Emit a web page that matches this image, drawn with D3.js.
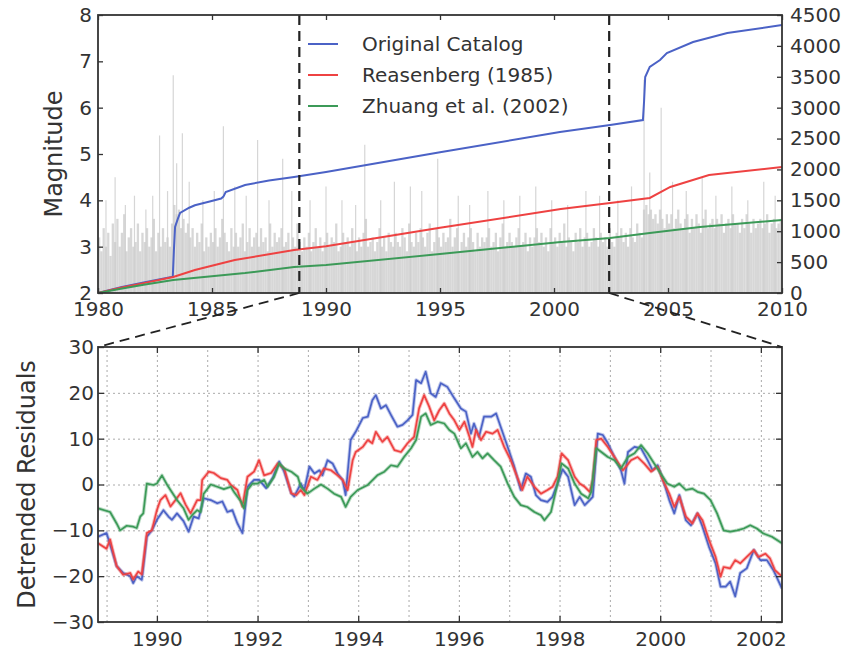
<!DOCTYPE html>
<html>
<head>
<meta charset="utf-8">
<script src="https://cdn.jsdelivr.net/npm/d3@7"></script>
<style>
  body { margin: 0; background: #fff; }
  text { font-family: "DejaVu Sans", sans-serif; }
</style>
</head>
<body>
<div id="chart"></div>
<script>
// ---- data ----
const topYearTicks = [1980, 1985, 1990, 1995, 2000, 2005, 2010];
const magTicks = [2, 3, 4, 5, 6, 7, 8];
const countTicks = [0, 500, 1000, 1500, 2000, 2500, 3000, 3500, 4000, 4500];
const resYearTicks = [1990, 1992, 1994, 1996, 1998, 2000, 2002];
const resYearMinor = [1989, 1990, 1991, 1992, 1993, 1994, 1995, 1996, 1997, 1998, 1999, 2000, 2001, 2002];
const resTicks = [-30, -20, -10, 0, 10, 20, 30];
const zoomWindow = [1988.83, 2002.42];

const seriesNames = ["Original Catalog", "Reasenberg (1985)", "Zhuang et al. (2002)"];
const seriesColors = ["#4b62c6", "#ee4242", "#3c9a58"];

// event magnitudes, one stem per 0.1 yr from 1980
const baseStart = 1980, baseStep = 0.1;
const baseMags = [
  3.2, 2.9, 3.4, 3.0, 3.3, 2.8, 3.5, 3.1, 3.6, 3.0,
  3.3, 3.7, 2.9, 3.2, 3.4, 3.0, 3.1, 3.5, 2.9, 3.3,
  3.1, 3.4, 3.0, 3.2, 3.6, 2.9, 3.3, 3.0, 3.4, 3.1,
  3.2, 3.0, 3.5, 3.9, 3.7, 3.8, 3.4, 3.6, 3.3, 3.5,
  3.2, 3.4, 3.0, 3.3, 3.1, 3.5, 2.9, 3.2, 3.0, 3.3,
  3.1, 3.4, 3.0, 3.2, 3.6, 3.3, 3.1, 2.9, 3.4, 3.0,
  3.3, 3.0, 3.2, 3.5, 2.9, 3.1, 3.4, 3.0, 3.2, 3.3,
  3.0, 3.4, 3.1, 3.2, 2.9, 3.5, 3.0, 3.3, 3.1, 3.2,
  3.4, 3.0, 3.1, 3.3, 2.9, 3.2, 3.0, 3.5, 3.1, 2.9,
  3.2, 3.0, 3.3, 2.9, 3.1, 3.4, 3.0, 3.2, 2.9, 3.1,
  3.3, 3.0, 3.2, 3.1, 3.5, 2.9, 3.0, 3.3, 3.1, 3.2,
  3.0, 3.4, 3.1, 2.9, 3.2, 3.0, 3.3, 3.6, 3.0, 3.1,
  3.2, 2.9, 3.1, 3.4, 3.0, 3.2, 2.9, 3.3, 3.1, 3.0,
  3.3, 3.1, 3.0, 3.4, 3.2, 2.9, 3.5, 3.1, 3.0, 3.3,
  3.1, 3.4, 3.2, 3.0, 3.3, 3.5, 2.9, 3.1, 3.4, 3.2,
  3.0, 3.3, 3.1, 3.2, 3.6, 3.0, 3.2, 3.4, 2.9, 3.1,
  3.3, 3.0, 3.2, 3.4, 3.1, 2.9, 3.3, 3.0, 3.2, 3.1,
  3.2, 3.4, 3.0, 3.1, 3.3, 2.9, 3.2, 3.5, 3.0, 3.1,
  3.3, 3.1, 3.0, 3.2, 3.4, 3.0, 3.1, 3.3, 2.9, 3.2,
  3.0, 3.2, 3.4, 3.1, 3.3, 3.0, 3.2, 2.9, 3.4, 3.1,
  3.2, 3.0, 3.3, 3.1, 3.5, 3.0, 3.2, 3.1, 2.9, 3.3,
  3.1, 3.4, 3.0, 3.2, 3.3, 3.0, 3.1, 3.4, 3.2, 3.0,
  3.3, 3.1, 3.2, 3.0, 3.4, 3.1, 3.0, 3.3, 3.2, 3.4,
  3.1, 3.3, 3.0, 3.4, 3.2, 3.1, 3.5, 3.3, 3.2, 3.8,
  3.9, 3.7, 3.8, 3.6, 3.7, 3.5, 3.8, 3.6, 3.4, 3.7,
  3.5, 3.7, 3.4, 3.6, 3.8, 3.5, 3.4, 3.6, 3.7, 3.3,
  3.6, 3.4, 3.7, 3.5, 3.3, 3.6, 3.8, 3.4, 3.5, 3.6,
  3.4, 3.6, 3.5, 3.7, 3.3, 3.5, 3.6, 3.4, 3.7, 3.5,
  3.5, 3.3, 3.6, 3.4, 3.7, 3.5, 3.3, 3.6, 3.4, 3.5,
  3.6, 3.4, 3.5, 3.7, 3.3, 3.5, 3.6, 3.4, 3.5, 3.6
];

// the larger events [year, magnitude]
const bigEvents = [
  [1980.35, 4.0], [1980.75, 4.5], [1981.2, 3.9], [1981.6, 4.1], [1982.1, 3.8],
  [1982.4, 4.1], [1982.7, 5.4], [1983.05, 4.2], [1983.3, 6.7], [1983.45, 4.8],
  [1983.7, 5.45], [1984.0, 4.4], [1984.6, 4.0], [1985.1, 4.2], [1985.5, 5.6],
  [1986.0, 4.3], [1986.5, 4.1], [1987.0, 5.3], [1987.5, 4.0], [1988.1, 4.9],
  [1988.5, 4.2], [1989.3, 4.0], [1990.0, 4.3], [1990.7, 4.0], [1991.3, 3.9],
  [1991.7, 5.2], [1992.4, 4.0], [1993.0, 4.4], [1993.7, 4.3], [1994.2, 4.2],
  [1994.9, 4.9], [1995.8, 4.1], [1996.3, 3.9], [1997.1, 4.2], [1997.8, 4.0],
  [1998.5, 4.1], [1999.2, 4.3], [1999.9, 4.0], [2000.6, 3.9], [2001.4, 4.2],
  [2002.0, 4.1], [2002.8, 4.0], [2003.4, 4.3], [2003.95, 6.6], [2004.2, 4.6],
  [2004.7, 6.0], [2005.2, 4.4], [2005.8, 4.2], [2006.5, 4.5], [2007.1, 4.1],
  [2007.8, 4.3], [2008.5, 4.0], [2009.2, 4.4], [2009.7, 4.1]
];

// cumulative number of events [year, count]
const origCum = [
  [1980, 0], [1981, 95], [1982, 170], [1983.28, 264], [1983.33, 700], [1983.38, 1068],
  [1983.5, 1200], [1983.6, 1295], [1984.0, 1380], [1984.25, 1420], [1984.9, 1480],
  [1985.4, 1530], [1985.5, 1560], [1985.6, 1635], [1986.45, 1748], [1987.5, 1820],
  [1988.6, 1878], [1990, 1959], [1995, 2280], [2000.26, 2606], [2002.46, 2720],
  [2003.9, 2800], [2003.95, 3100], [2004.0, 3496], [2004.2, 3660], [2004.65, 3771],
  [2004.95, 3885], [2006.1, 4063], [2007.6, 4208], [2010, 4338]
];
const reasCum = [
  [1980, 0], [1981, 85], [1982, 160], [1983.3, 259], [1984.25, 372], [1986, 534],
  [1988.6, 696], [1990, 755], [1995, 1055], [2000.3, 1360], [2002.46, 1457],
  [2004.2, 1538], [2005.1, 1716], [2006.8, 1910], [2010, 2040]
];
const zhuangCum = [
  [1980, 0], [1981, 70], [1982, 135], [1983.3, 210], [1986.45, 324], [1988.6, 421],
  [1990, 452], [1995, 630], [2000.3, 826], [2002.46, 890], [2004.2, 971],
  [2006.4, 1068], [2010, 1182]
];

// detrended residuals [year, value]
const origRes = [
  [1988.83, -11.4], [1989.00, -10.6], [1989.20, -17.8], [1989.33, -19.3], [1989.47, -20],
  [1989.53, -21.5], [1989.60, -20], [1989.70, -20.8], [1989.80, -11.4], [1989.90, -10],
  [1990.00, -7.7], [1990.13, -5.6], [1990.23, -7], [1990.30, -7.7], [1990.40, -6.3],
  [1990.53, -8], [1990.63, -10.3], [1990.73, -7], [1990.83, -7.4], [1990.93, -3],
  [1991.07, -3.4], [1991.20, -4.1], [1991.30, -3.7], [1991.40, -6], [1991.50, -5.6],
  [1991.60, -8.5], [1991.70, -10.6], [1991.80, -0.5], [1991.93, 1], [1992.03, 1],
  [1992.17, -0.8], [1992.30, 1.4], [1992.43, 5], [1992.53, 2.8], [1992.67, -1.9],
  [1992.73, -2.6], [1992.86, 0.2], [1992.93, -1.2], [1993.03, 3.9], [1993.13, 2.4],
  [1993.23, 3.1], [1993.29, 2], [1993.39, 5.3], [1993.49, 4.6], [1993.59, 2.4],
  [1993.69, 1], [1993.75, -2.3], [1993.85, 9.7], [1993.95, 11.5], [1994.09, 14.5],
  [1994.19, 14.8], [1994.28, 18.4], [1994.35, 19.5], [1994.45, 16.6], [1994.55, 17.3],
  [1994.65, 15.2], [1994.78, 12.6], [1994.88, 13], [1994.98, 14], [1995.08, 15.2],
  [1995.15, 22.8], [1995.25, 22.1], [1995.34, 24.6], [1995.44, 19.9], [1995.54, 19.1],
  [1995.64, 22.1], [1995.77, 21.3], [1995.91, 18.8], [1996.04, 16.6], [1996.14, 15.9],
  [1996.24, 11.1], [1996.30, 13.3], [1996.40, 10.4], [1996.50, 14.8], [1996.64, 14.8],
  [1996.74, 15.5], [1996.83, 12.6], [1996.97, 8.2], [1997.10, 3.9], [1997.23, -1.2],
  [1997.33, 2.4], [1997.43, 1.7], [1997.53, -2.3], [1997.63, -3.4], [1997.76, -3.8],
  [1997.86, -2.7], [1997.96, 0.2], [1998.06, 3.3], [1998.17, 1.7], [1998.30, -4.5],
  [1998.40, -2.7], [1998.50, -4.5], [1998.60, -3.4], [1998.66, -2.7], [1998.76, 11.1],
  [1998.86, 10.8], [1998.96, 9], [1999.09, 6], [1999.22, 3.1], [1999.29, 0.2],
  [1999.36, 7.1], [1999.49, 8.2], [1999.62, 7.9], [1999.75, 5.3], [1999.85, 3.1],
  [1999.95, 4.2], [2000.08, 0.2], [2000.18, -3.4], [2000.28, -6.3], [2000.38, -2.3],
  [2000.51, -7.8], [2000.61, -8.9], [2000.74, -6.3], [2000.84, -9.2], [2000.97, -13.6],
  [2001.10, -17.2], [2001.20, -22.3], [2001.30, -22.3], [2001.39, -21.2], [2001.49, -24.4],
  [2001.59, -19.3], [2001.72, -18.3], [2001.86, -14.3], [2001.99, -16.5], [2002.12, -16.5],
  [2002.25, -18.7], [2002.42, -22.7]
];
const reasRes = [
  [1988.83, -12.8], [1989.00, -14], [1989.07, -12], [1989.20, -17.8], [1989.33, -19.7],
  [1989.47, -19.3], [1989.53, -20.7], [1989.63, -19], [1989.70, -19.6], [1989.80, -10.6],
  [1989.90, -10], [1990.00, -5.6], [1990.07, -3.4], [1990.17, -2.3], [1990.27, -4.8],
  [1990.37, -3.4], [1990.47, -1.9], [1990.57, -4.4], [1990.67, -6.3], [1990.80, -3.4],
  [1990.87, -3.4], [1990.90, 1], [1991.03, 2.8], [1991.13, 2.5], [1991.27, 1.4],
  [1991.40, 1], [1991.47, -0.1], [1991.60, -1.2], [1991.70, -4.8], [1991.80, 1.7],
  [1991.93, 2.8], [1992.03, 5.3], [1992.13, 2], [1992.27, 2.5], [1992.40, 4.6],
  [1992.53, 3.5], [1992.67, -1.9], [1992.77, -2.3], [1992.86, -1.2], [1992.93, -2.3],
  [1993.06, 1.7], [1993.19, 1], [1993.32, 3.5], [1993.46, 3.1], [1993.59, 2],
  [1993.69, 1], [1993.79, -1.2], [1993.89, 5.3], [1993.95, 7.1], [1994.09, 8.2],
  [1994.19, 9.7], [1994.28, 9], [1994.35, 11.5], [1994.48, 9.3], [1994.58, 10.4],
  [1994.72, 7.5], [1994.85, 7.1], [1994.98, 9], [1995.11, 10.4], [1995.21, 16.6],
  [1995.31, 19.5], [1995.41, 17], [1995.51, 14], [1995.61, 16.2], [1995.71, 17.7],
  [1995.81, 15.5], [1995.91, 14], [1996.01, 11.9], [1996.11, 13.7], [1996.21, 10.4],
  [1996.27, 8.2], [1996.34, 11.9], [1996.44, 9.7], [1996.54, 11.5], [1996.67, 11.1],
  [1996.77, 11.9], [1996.90, 8.2], [1997.03, 5.3], [1997.17, 1.3], [1997.26, -1.2],
  [1997.36, 1.7], [1997.50, -0.5], [1997.63, -2], [1997.76, -1.2], [1997.86, -0.5],
  [1997.96, 1.7], [1998.04, 6.8], [1998.17, 5.3], [1998.30, 1.7], [1998.40, 0.2],
  [1998.50, -0.5], [1998.60, -1.6], [1998.66, 1], [1998.73, 9.7], [1998.83, 10],
  [1998.96, 8.2], [1999.09, 6], [1999.26, 3.1], [1999.32, 3.9], [1999.42, 5.3],
  [1999.55, 6], [1999.68, 4.6], [1999.82, 2.8], [1999.95, 3.9], [2000.05, 1],
  [2000.18, -2], [2000.28, -4.9], [2000.38, -2.7], [2000.51, -7], [2000.64, -8.5],
  [2000.74, -6.3], [2000.84, -7.8], [2000.97, -12.1], [2001.10, -15.8], [2001.20, -20.1],
  [2001.26, -18], [2001.39, -18.3], [2001.49, -16.5], [2001.59, -17.2], [2001.72, -15.8],
  [2001.86, -14.3], [2001.95, -15.8], [2002.09, -15.1], [2002.18, -16.1], [2002.28, -18.7],
  [2002.42, -20.1]
];
const zhuangRes = [
  [1988.83, -5.2], [1989.07, -6], [1989.20, -8.5], [1989.27, -10], [1989.40, -9],
  [1989.53, -9.2], [1989.60, -9.5], [1989.67, -7], [1989.73, -6.3], [1989.80, 0.2],
  [1989.93, -0.1], [1990.00, 0.2], [1990.10, 2], [1990.20, 0], [1990.27, -1.2],
  [1990.40, -3.4], [1990.53, -5.2], [1990.63, -7.7], [1990.70, -6.7], [1990.80, -5.6],
  [1990.87, -6], [1990.93, -2], [1991.07, 0], [1991.20, -0.5], [1991.33, -1],
  [1991.47, -0.5], [1991.53, -1.6], [1991.67, -3.7], [1991.73, -5.2], [1991.80, -1.2],
  [1991.90, 0.2], [1992.00, 0.2], [1992.13, 1], [1992.20, -0.5], [1992.33, 1.7],
  [1992.43, 4.6], [1992.53, 3.5], [1992.67, 2.8], [1992.80, 1.7], [1992.86, -0.5],
  [1992.99, -2], [1993.13, -0.9], [1993.26, 0], [1993.39, -0.9], [1993.52, -2],
  [1993.66, -2.7], [1993.75, -4.9], [1993.85, -2.7], [1993.99, -1.2], [1994.19, -0.1],
  [1994.38, 2], [1994.52, 2.8], [1994.65, 4.2], [1994.78, 3.9], [1994.91, 6],
  [1995.05, 7.9], [1995.15, 9.7], [1995.25, 14.8], [1995.34, 15.5], [1995.44, 13],
  [1995.58, 13.7], [1995.71, 13.3], [1995.81, 11.9], [1995.91, 11.1], [1996.04, 7.9],
  [1996.14, 9], [1996.27, 6], [1996.37, 7.1], [1996.47, 5.7], [1996.57, 6.8],
  [1996.70, 5.3], [1996.83, 3.9], [1996.97, 0.2], [1997.10, -2.7], [1997.23, -4.5],
  [1997.36, -4.9], [1997.50, -6], [1997.63, -6.7], [1997.70, -7.8], [1997.83, -6],
  [1997.96, 0.2], [1998.04, 4.6], [1998.17, 3.5], [1998.30, 0.2], [1998.43, -2],
  [1998.57, -3], [1998.63, -1.6], [1998.73, 7.9], [1998.83, 7.1], [1998.96, 6],
  [1999.09, 5.3], [1999.22, 3.5], [1999.36, 6], [1999.49, 6.8], [1999.62, 8.6],
  [1999.75, 6.8], [1999.88, 4.6], [2000.01, 2.4], [2000.14, 0.2], [2000.28, -0.5],
  [2000.38, 0.2], [2000.51, -1.2], [2000.64, -0.9], [2000.74, -1.6], [2000.87, -2],
  [2001.00, -3.4], [2001.13, -6.3], [2001.26, -10], [2001.39, -10.3], [2001.53, -10],
  [2001.66, -9.6], [2001.79, -8.9], [2001.92, -9.6], [2002.05, -10.7], [2002.22, -11.4],
  [2002.42, -12.8]
];

const cumSeries = [origCum, reasCum, zhuangCum];
const resSeries = [origRes, reasRes, zhuangRes];

// ---- layout ----
const width = 846, height = 653;
const topBox = { left: 98, right: 782, top: 15, bottom: 293 };
const botBox = { left: 98, right: 782, top: 347, bottom: 622 };
const ink = "#333";

const svg = d3.select("#chart")
              .append("svg")
              .attr("width", width)
              .attr("height", height);

const styleAxis = (g, size) => {
    g.attr("font-size", size)
     .attr("font-family", "DejaVu Sans")
     .attr("color", ink);
    g.select(".domain").remove();
    g.selectAll(".tick line").attr("stroke-width", 1.3);
};

const xTop = d3.scaleLinear().domain([1980, 2010]).range([topBox.left, topBox.right]);
const yMag = d3.scaleLinear().domain([2, 8]).range([topBox.bottom, topBox.top]);
const yCount = d3.scaleLinear().domain([0, 4500]).range([topBox.bottom, topBox.top]);

const xBot = d3.scaleLinear().domain(zoomWindow).range([botBox.left, botBox.right]);
const yRes = d3.scaleLinear().domain([-30, 30]).range([botBox.bottom, botBox.top]);

const createTop = () => {
    const g = svg.append("g");

    // magnitude stems
    g.append("g")
     .selectAll("line")
     .data(baseMags)
     .join("line")
     .attr("x1", (d, i) => xTop(baseStart + (i + 0.5) * baseStep))
     .attr("x2", (d, i) => xTop(baseStart + (i + 0.5) * baseStep))
     .attr("y1", yMag(2))
     .attr("y2", d => yMag(d))
     .attr("stroke", "#cdcdcd")
     .attr("stroke-width", 2.3)
     .attr("stroke-opacity", 0.8);

    g.append("g")
     .selectAll("line")
     .data(bigEvents)
     .join("line")
     .attr("x1", d => xTop(d[0]))
     .attr("x2", d => xTop(d[0]))
     .attr("y1", yMag(2))
     .attr("y2", d => yMag(d[1]))
     .attr("stroke", "#cccccc")
     .attr("stroke-width", 1.2)
     .attr("stroke-opacity", 0.8);

    const line = d3.line()
                   .x(d => xTop(d[0]))
                   .y(d => yCount(d[1]));

    g.selectAll("path.cum")
     .data(cumSeries)
     .join("path")
     .attr("class", "cum")
     .attr("d", line)
     .attr("fill", "none")
     .attr("stroke", (d, i) => seriesColors[i])
     .attr("stroke-width", 2);

    // zoom window markers
    g.selectAll("line.win")
     .data(zoomWindow)
     .join("line")
     .attr("class", "win")
     .attr("x1", d => xTop(d))
     .attr("x2", d => xTop(d))
     .attr("y1", yMag(8))
     .attr("y2", yMag(2))
     .attr("stroke", "#222")
     .attr("stroke-width", 2.2)
     .attr("stroke-dasharray", "10,6");

    // legend
    const legend = g.append("g")
                    .attr("transform", "translate(308, 44)");

    seriesNames.forEach((name, i) => {
        legend.append("line")
              .attr("x1", 0)
              .attr("x2", 30)
              .attr("y1", i * 31)
              .attr("y2", i * 31)
              .attr("stroke", seriesColors[i])
              .attr("stroke-width", 2);

        legend.append("text")
              .attr("x", 54)
              .attr("y", i * 31 + 7)
              .attr("font-size", 20)
              .attr("fill", ink)
              .text(name);
    });

    // axes
    g.append("g")
     .attr("transform", `translate(0,${topBox.bottom})`)
     .call(d3.axisBottom(xTop).tickValues(topYearTicks).tickFormat(d3.format("d"))
             .tickSizeInner(-5).tickSizeOuter(0).tickPadding(9))
     .call(a => styleAxis(a, 20));

    g.append("g")
     .attr("transform", `translate(0,${topBox.top})`)
     .call(d3.axisTop(xTop).tickValues(topYearTicks).tickFormat("")
             .tickSizeInner(-5).tickSizeOuter(0))
     .call(a => styleAxis(a, 20));

    g.append("g")
     .attr("transform", `translate(${topBox.left},0)`)
     .call(d3.axisLeft(yMag).tickValues(magTicks).tickFormat(d3.format("d"))
             .tickSizeInner(-5).tickSizeOuter(0).tickPadding(6))
     .call(a => styleAxis(a, 20));

    g.append("g")
     .attr("transform", `translate(${topBox.right},0)`)
     .call(d3.axisRight(yCount).tickValues(countTicks).tickFormat(d3.format("d"))
             .tickSizeInner(-5).tickSizeOuter(0).tickPadding(8))
     .call(a => styleAxis(a, 20));

    g.append("rect")
     .attr("x", topBox.left)
     .attr("y", topBox.top)
     .attr("width", topBox.right - topBox.left)
     .attr("height", topBox.bottom - topBox.top)
     .attr("fill", "none")
     .attr("stroke", ink)
     .attr("stroke-width", 1.8);

    g.append("text")
     .attr("transform", `translate(62,${(topBox.top + topBox.bottom) / 2}) rotate(-90)`)
     .attr("text-anchor", "middle")
     .attr("font-size", 24)
     .attr("fill", ink)
     .text("Magnitude");
};

const createBottom = () => {
    const g = svg.append("g");
    const innerH = botBox.bottom - botBox.top;
    const innerW = botBox.right - botBox.left;

    g.append("clipPath")
     .attr("id", "bot-clip")
     .append("rect")
     .attr("x", botBox.left)
     .attr("y", botBox.top)
     .attr("width", innerW)
     .attr("height", innerH);

    // dotted grid
    g.append("g")
     .attr("transform", `translate(0,${botBox.bottom})`)
     .call(d3.axisBottom(xBot).tickValues(resYearMinor).tickFormat("")
             .tickSizeInner(-innerH).tickSizeOuter(0))
     .call(a => {
         a.select(".domain").remove();
         a.selectAll(".tick line")
          .attr("stroke", "#aaa")
          .attr("stroke-width", 1)
          .attr("stroke-dasharray", "2,3");
     });

    g.append("g")
     .attr("transform", `translate(${botBox.left},0)`)
     .call(d3.axisLeft(yRes).tickValues(resTicks.slice(1, -1)).tickFormat("")
             .tickSizeInner(-innerW).tickSizeOuter(0))
     .call(a => {
         a.select(".domain").remove();
         a.selectAll(".tick line")
          .attr("stroke", "#aaa")
          .attr("stroke-width", 1)
          .attr("stroke-dasharray", "2,3");
     });

    const line = d3.line()
                   .x(d => xBot(d[0]))
                   .y(d => yRes(d[1]));

    const lines = g.append("g")
                   .attr("clip-path", "url(#bot-clip)");

    resSeries.forEach((s, i) => {
        lines.append("path")
             .attr("d", line(s))
             .attr("fill", "none")
             .attr("stroke", seriesColors[i])
             .attr("stroke-opacity", 0.35)
             .attr("stroke-width", 3.6)
             .attr("stroke-linejoin", "round");

        lines.append("path")
             .attr("d", line(s))
             .attr("fill", "none")
             .attr("stroke", seriesColors[i])
             .attr("stroke-width", 1.7)
             .attr("stroke-linejoin", "round");
    });

    // axes
    g.append("g")
     .attr("transform", `translate(0,${botBox.bottom})`)
     .call(d3.axisBottom(xBot).tickValues(resYearTicks).tickFormat(d3.format("d"))
             .tickSizeInner(-6).tickSizeOuter(0).tickPadding(10))
     .call(a => styleAxis(a, 20));

    g.append("g")
     .attr("transform", `translate(0,${botBox.top})`)
     .call(d3.axisTop(xBot).tickValues(resYearTicks).tickFormat("")
             .tickSizeInner(-6).tickSizeOuter(0))
     .call(a => styleAxis(a, 20));

    g.append("g")
     .attr("transform", `translate(${botBox.left},0)`)
     .call(d3.axisLeft(yRes).tickValues(resTicks).tickFormat(d3.format("d"))
             .tickSizeInner(-6).tickSizeOuter(0).tickPadding(4))
     .call(a => styleAxis(a, 20));

    g.append("g")
     .attr("transform", `translate(${botBox.right},0)`)
     .call(d3.axisRight(yRes).tickValues(resTicks).tickFormat("")
             .tickSizeInner(-6).tickSizeOuter(0))
     .call(a => styleAxis(a, 20));

    g.append("rect")
     .attr("x", botBox.left)
     .attr("y", botBox.top)
     .attr("width", innerW)
     .attr("height", innerH)
     .attr("fill", "none")
     .attr("stroke", ink)
     .attr("stroke-width", 1.8);

    g.append("text")
     .attr("transform", `translate(35,${(botBox.top + botBox.bottom) / 2}) rotate(-90)`)
     .attr("text-anchor", "middle")
     .attr("font-size", 24)
     .attr("fill", ink)
     .text("Detrended Residuals");
};

const createConnectors = () => {
    svg.append("g")
       .selectAll("line")
       .data(zoomWindow)
       .join("line")
       .attr("x1", d => xTop(d))
       .attr("y1", yMag(2))
       .attr("x2", d => xBot(d))
       .attr("y2", yRes(30))
       .attr("stroke", "#222")
       .attr("stroke-width", 1.8)
       .attr("stroke-dasharray", "10,6");
};

createTop();
createBottom();
createConnectors();
</script>
</body>
</html>
